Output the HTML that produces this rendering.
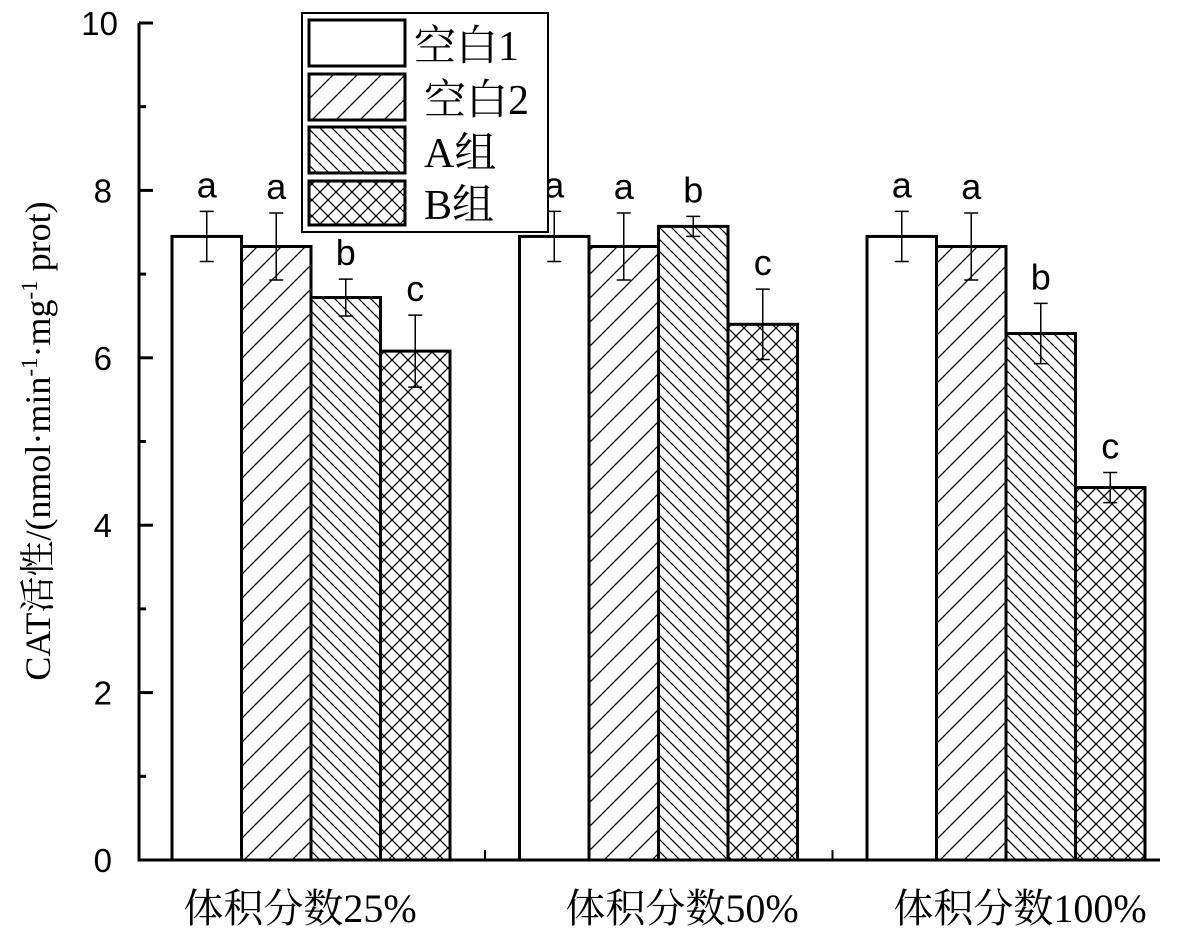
<!DOCTYPE html>
<html><head><meta charset="utf-8"><style>
body{margin:0;background:#fff}
svg text{font-family:"Liberation Serif","Noto Serif CJK SC",serif}
.ar{font-family:"Liberation Sans",sans-serif}
</style></head><body>
<svg width="1186" height="935" xmlns="http://www.w3.org/2000/svg">
<defs>
<pattern id="p2" patternUnits="userSpaceOnUse" width="24" height="24"><path d="M-6,30 L30,-6 M-18,18 L18,-18 M6,42 L42,6" stroke="#000" stroke-width="1.3"/></pattern>
<pattern id="p3" patternUnits="userSpaceOnUse" width="12" height="12"><path d="M-6,-6 L18,18 M-6,6 L6,18 M6,-6 L18,6" stroke="#000" stroke-width="1.3"/></pattern>
<pattern id="p4" patternUnits="userSpaceOnUse" width="16" height="16"><path d="M0,0 L16,16 M16,0 L0,16" stroke="#000" stroke-width="1.3"/></pattern>
</defs>
<g id="bars"></g>
<g id="axes"></g>
<g>
<rect x="302" y="13" width="246" height="219" fill="#fff" stroke="#000" stroke-width="2"/>
<rect x="309" y="20" width="96" height="46" fill="#fff" stroke="#000" stroke-width="3"/>
<text x="414" y="60" font-size="42">空白1</text>
<rect x="309" y="74" width="96" height="46" fill="url(#p2)" stroke="#000" stroke-width="3"/>
<text x="424" y="114" font-size="42">空白2</text>
<rect x="309" y="127" width="96" height="46" fill="url(#p3)" stroke="#000" stroke-width="3"/>
<text x="424" y="167" font-size="42">A组</text>
<rect x="309" y="181" width="96" height="44" fill="url(#p4)" stroke="#000" stroke-width="3"/>
<text x="424" y="219" font-size="42">B组</text>
</g>
<text transform="translate(50,441) rotate(-90)" text-anchor="middle" font-size="36">CAT活性/(nmol·min<tspan font-size="23" dy="-13">-1</tspan><tspan dy="13">·mg</tspan><tspan font-size="23" dy="-13">-1</tspan><tspan dy="13"> prot)</tspan></text>
</svg>
<script>
const categories=["体积分数25%","体积分数50%","体积分数100%"];
const blank1=[7.45,7.45,7.45];
const blank2=[7.33,7.33,7.33];
const groupA=[6.72,7.57,6.29];
const groupB=[6.08,6.40,4.45];
const err1=[0.30,0.30,0.30];
const err2=[0.40,0.40,0.40];
const errA=[0.22,0.12,0.36];
const errB=[0.43,0.42,0.18];
const lab1=["a","a","a"];
const lab2=["a","a","a"];
const labA=["b","b","b"];
const labB=["c","c","c"];
const yTicks=[0,2,4,6,8,10];
const NS="http://www.w3.org/2000/svg";
const y0=860,y10=23,xL=139,xR=1160;
function Y(v){return y0-(y0-y10)*v/10;}
const groupW=347.5;
function gx(i){return 172+groupW*i;}
const bw=69.5;
const series=[[blank1,err1,lab1,"#fff"],[blank2,err2,lab2,"url(#p2)"],[groupA,errA,labA,"url(#p3)"],[groupB,errB,labB,"url(#p4)"]];
const bars=document.getElementById('bars'),axes=document.getElementById('axes');
function mk(tag,attrs,parent){const e=document.createElementNS(NS,tag);for(const k in attrs)e.setAttribute(k,attrs[k]);parent.appendChild(e);return e;}
const labX=[300,682,1020];
categories.forEach((c,i)=>{
 series.forEach((s,j)=>{
  const x=gx(i)+j*bw,v=s[0][i],e=s[1][i];
  const r=mk('rect',{x:x,y:Y(v),width:bw,height:y0-Y(v),fill:s[3],stroke:'#000','stroke-width':3},bars);
  
  
  const cx=x+bw/2;
  const eb=mk('path',{d:`M${cx},${Y(v-e)}V${Y(v+e)}M${cx-7},${Y(v-e)}h14M${cx-7},${Y(v+e)}h14`,stroke:'#000','stroke-width':1.5,fill:'none'},bars);
  
  
  const t=mk('text',{x:cx,y:Y(v+e)-14,'text-anchor':'middle','font-size':36,class:'ar'},bars);
  t.textContent=s[2][i];
  
  
 });
 const t=mk('text',{x:labX[i],y:922,'text-anchor':'middle','font-size':40},axes);
 t.textContent=c;
 
 
 if(i>0){const tk=mk('path',{d:`M${gx(i)-34.5},${y0}v-10`,stroke:'#000','stroke-width':2},axes);
 
 }
});
const ax=mk('path',{d:`M${xL},${y10}V${y0}H${xR}`,stroke:'#000','stroke-width':3,fill:'none'},axes);


yTicks.forEach(v=>{
 const tk=mk('path',{d:`M${xL},${Y(v)}h14`,stroke:'#000','stroke-width':3},axes);
 
 
 if(v<10){const m=mk('path',{d:`M${xL},${Y(v+1)}h7`,stroke:'#000','stroke-width':3},axes);
 
 }
 const t=mk('text',{x:v==10?118:112,y:Y(v)+12,'text-anchor':'end','font-size':33,class:'ar'},axes);
 t.textContent=v;
 
 
});
</script>
</body></html>
